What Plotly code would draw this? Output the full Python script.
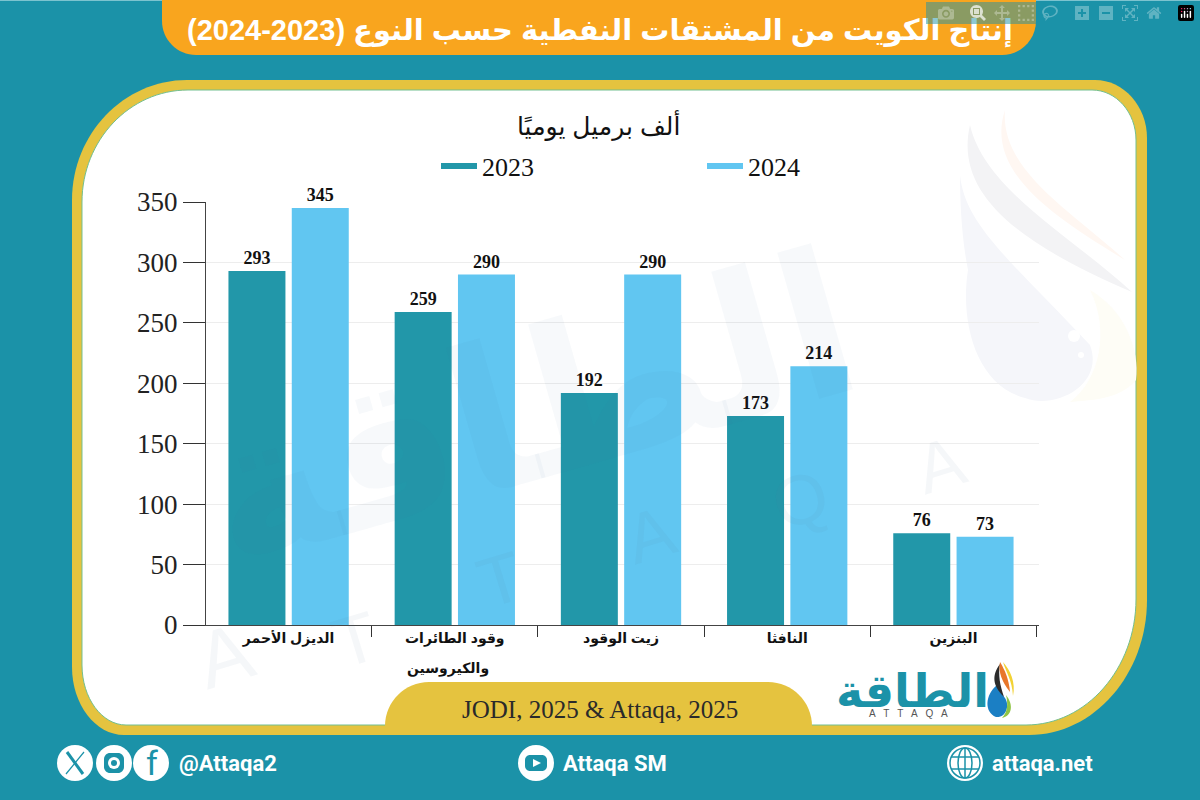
import plotly.graph_objects as go

# ---------- data ----------
categories = ["الديزل الأحمر", "وقود الطائرات والكيروسين", "زيت الوقود", "النافثا", "البنزين"]
tick_first_lines = ["الديزل الأحمر", "وقود الطائرات", "زيت الوقود", "النافثا", "البنزين"]
second_line_text = "والكيروسين"
values_2023 = [293, 259, 192, 173, 76]
values_2024 = [345, 290, 290, 214, 73]
series_names = ["2023", "2024"]
y_ticks = [0, 50, 100, 150, 200, 250, 300, 350]
title_text = "إنتاج الكويت من المشتقات النفطية حسب النوع (2023-2024)"
unit_text = "ألف برميل يوميًا"
source_text = "JODI, 2025 & Attaqa, 2025"

# ---------- style ----------
TEAL_BG = "#1B92A8"
TEAL_BAR = "#2297A9"
SKY_BAR = "#61C6F1"
GOLD = "#E5C33F"
ORANGE = "#F9A51E"
SERIF = "Liberation Serif, DejaVu Sans, serif"
ARABIC = "Liberation Sans, DejaVu Sans, sans-serif"
W, H = 1200, 800


def P(x, y):
    return f"{x / W:.5f},{1 - y / H:.5f}"


def rrect(x0, y0, x1, y1, tl, tr, br, bl):
    k = 0.45
    return (
        f"M{P(x0 + tl[0], y0)} L{P(x1 - tr[0], y0)} "
        f"C{P(x1 - tr[0] * k, y0)} {P(x1, y0 + tr[1] * k)} {P(x1, y0 + tr[1])} "
        f"L{P(x1, y1 - br[1])} "
        f"C{P(x1, y1 - br[1] * k)} {P(x1 - br[0] * k, y1)} {P(x1 - br[0], y1)} "
        f"L{P(x0 + bl[0], y1)} "
        f"C{P(x0 + bl[0] * k, y1)} {P(x0, y1 - bl[1] * k)} {P(x0, y1 - bl[1])} "
        f"L{P(x0, y0 + tl[1])} "
        f"C{P(x0, y0 + tl[1] * k)} {P(x0 + tl[0] * k, y0)} {P(x0 + tl[0], y0)} Z"
    )


def poly(points):
    return "M" + " L".join(P(*p) for p in points) + " Z"


def curve(start, *segs):
    s = f"M{P(*start)} "
    for c1, c2, e in segs:
        s += f"C{P(*c1)} {P(*c2)} {P(*e)} "
    return s + "Z"


def shape(path, fill, line=None, lw=0, layer="below"):
    d = dict(type="path", path=path, xref="paper", yref="paper", fillcolor=fill, layer=layer)
    d["line"] = dict(color=line or "rgba(0,0,0,0)", width=lw)
    return d


def circle(cx, cy, r, fill, line=None, lw=0, layer="below"):
    return dict(type="circle", xref="paper", yref="paper", layer=layer,
                x0=(cx - r) / W, x1=(cx + r) / W,
                y0=1 - (cy + r) / H, y1=1 - (cy - r) / H,
                fillcolor=fill, line=dict(color=line or "rgba(0,0,0,0)", width=lw))


def seg(x0, y0, x1, y1, color, lw, layer="above"):
    return dict(type="line", xref="paper", yref="paper", layer=layer,
                x0=x0 / W, x1=x1 / W, y0=1 - y0 / H, y1=1 - y1 / H,
                line=dict(color=color, width=lw))


def note(text, x, y, size, color, family=SERIF, bold=False, xanchor="center", angle=0):
    t = f"<b>{text}</b>" if bold else text
    return dict(text=t, x=x / W, y=1 - y / H, xref="paper", yref="paper", showarrow=False,
                xanchor=xanchor, yanchor="middle", textangle=angle,
                font=dict(family=family, size=size, color=color))


shapes = [
    seg(0, 0.5, 1200, 0.5, "#7CC3CF", 1, "below"),
    # title banner
    shape(rrect(162, -2, 1036, 55, (1, 1), (1, 1), (34, 34), (34, 34)), ORANGE),
    # panel
    shape(rrect(72, 80, 1147, 735, (115, 120), (52, 58), (118, 135), (52, 68)), GOLD),
    shape(rrect(82, 90, 1136, 725, (106, 112), (44, 50), (110, 126), (44, 60)), "#FFFFFF", "#72BF90", 1),
    # pale drop and swooshes behind the chart
    shape(curve((970, 125), ((955, 190), (1010, 240), (1132, 292)),
                ((1070, 235), (985, 190), (970, 125))), "#F3F3F5"),
    shape(curve((1005, 110), ((985, 170), (1050, 215), (1125, 260)),
                ((1070, 210), (1000, 170), (1005, 110))), "#FFF7F2"),
    shape(curve((960, 175), ((965, 225), (1010, 260), (1090, 345)),
                ((1105, 385), (1055, 410), (1025, 398)),
                ((975, 385), (960, 320), (968, 270)),
                ((962, 240), (960, 205), (960, 175))), "#F5F6FA"),
    shape(curve((1090, 290), ((1125, 310), (1140, 350), (1136, 380)),
                ((1120, 400), (1090, 400), (1070, 402)),
                ((1100, 380), (1110, 330), (1090, 290))), "#FEFDF6"),
    circle(1074, 336, 6, "#FFFFFF"),
    circle(1081, 355, 3, "#FFFFFF"),
    # source pill
    shape(rrect(385, 682, 812, 735, (44, 44), (44, 44), (1, 1), (1, 1)), GOLD),
    # logo flame
    shape(curve((997, 685), ((985, 695), (984, 712), (996, 717)),
                ((1006, 718), (1010, 706), (1005, 698)),
                ((1001, 693), (998, 690), (997, 685))), "#1B7FC4", layer="above"),
    shape(curve((1000, 664), ((992, 675), (992, 685), (1004, 697)),
                ((1000, 685), (998, 675), (1000, 664))), "#2B2B2B", layer="above"),
    shape(curve((1000, 662), ((998, 672), (1002, 682), (1010, 692)),
                ((1009, 680), (1005, 670), (1000, 662))), "#E8772A", layer="above"),
    shape(curve((1003, 662), ((1006, 672), (1012, 680), (1013, 696)),
                ((1016, 682), (1010, 670), (1003, 662))), "#F2D234", layer="above"),
    shape(curve((1006, 695), ((1014, 705), (1012, 716), (1002, 718)),
                ((1008, 712), (1008, 703), (1006, 695))), "#8FC444", layer="above"),
    # footer icons
    circle(75, 763, 18, "#FFFFFF"),
    circle(114, 763, 18, "#FFFFFF"),
    circle(151, 763, 18, "#FFFFFF"),
    circle(536, 763, 18, "#FFFFFF"),
    circle(965, 763, 18, "#FFFFFF"),
    seg(67, 752, 83, 774, TEAL_BG, 3),
    seg(84, 752, 66, 774, TEAL_BG, 1.2),
    shape(rrect(104, 753, 124, 773, (6, 6), (6, 6), (6, 6), (6, 6)), TEAL_BG, layer="above"),
    circle(114, 763, 6, "#FFFFFF", layer="above"),
    circle(114, 763, 3, TEAL_BG, layer="above"),
    shape(rrect(525, 755, 547, 771, (5, 5), (5, 5), (5, 5), (5, 5)), TEAL_BG, layer="above"),
    shape(poly([(533, 759), (541, 763), (533, 767)]), "#FFFFFF", layer="above"),
    circle(965, 763, 15, "#FFFFFF", TEAL_BG, 1.5, "above"),
    dict(type="circle", xref="paper", yref="paper", layer="above", x0=958 / W, x1=972 / W,
         y0=1 - 778 / H, y1=1 - 748 / H, line=dict(color=TEAL_BG, width=1.5)),
    seg(965, 748, 965, 778, TEAL_BG, 1.5),
    seg(951, 757, 979, 757, TEAL_BG, 1.5),
    seg(951, 769, 979, 769, TEAL_BG, 1.5),
]

WM = "rgba(60,120,170,0.045)"
annotations = [
    note(title_text, 600, 31, 29, "#FFFFFF", ARABIC, bold=True),
    note(unit_text, 598, 125, 25, "#111111", ARABIC),
    note(second_line_text, 448, 668, 14, "#111111", ARABIC, bold=True),
    note(source_text, 600, 709, 25, "#2A2A2A"),
    note("الطاقة", 912, 691, 46, "#1B92A8", ARABIC, bold=True),
    note("A   T   T   A   Q   A", 908, 713, 10, "#555555", "Liberation Sans"),
    note("f", 152, 763, 34, "#1B92A8", "Roboto"),
    note("@Attaqa2", 177, 763, 22, "#FFFFFF", "Roboto", bold=True, xanchor="left"),
    note("Attaqa SM", 561, 763, 22, "#FFFFFF", "Roboto", bold=True, xanchor="left"),
    note("attaqa.net", 990, 763, 22, "#FFFFFF", "Roboto", bold=True, xanchor="left"),
    # watermark
    note("الطاقة", 530, 410, 200, WM, ARABIC, bold=True, angle=-16),
    note("A", 225, 655, 80, "rgba(90,120,150,0.06)", "Liberation Sans", angle=-17),
    note("T", 355, 640, 70, "rgba(90,120,150,0.06)", "Liberation Sans", angle=-17),
    note("T", 500, 580, 70, "rgba(90,120,150,0.06)", "Liberation Sans", angle=-17),
    note("A", 650, 535, 70, "rgba(90,120,150,0.06)", "Liberation Sans", angle=-17),
    note("Q", 800, 500, 70, "rgba(90,120,150,0.06)", "Liberation Sans", angle=-17),
    note("A", 940, 465, 70, "rgba(90,120,150,0.06)", "Liberation Sans", angle=-17),
]

fig = go.Figure()
for name, vals, col in zip(series_names, (values_2023, values_2024), (TEAL_BAR, SKY_BAR)):
    fig.add_bar(
        x=categories, y=vals, name=name, marker=dict(color=col, line=dict(width=0)),
        text=vals, textposition="outside", cliponaxis=False, showlegend=False,
        textfont=dict(family=SERIF, size=18, color="#111111", weight="bold"),
        legendgroup=name,
    )
for name, col in zip(series_names, (TEAL_BAR, SKY_BAR)):
    fig.add_scatter(x=[None], y=[None], mode="lines", name=name, legendgroup=name,
                    line=dict(color=col, width=6))

fig.update_layout(
    width=W, height=H, margin=dict(l=0, r=0, t=0, b=0, autoexpand=False),
    paper_bgcolor=TEAL_BG, plot_bgcolor="rgba(0,0,0,0)",
    barmode="group", bargap=0.238, bargroupgap=0.1,
    shapes=shapes, annotations=annotations,
    legend=dict(orientation="h", xref="container", yref="container",
                x=436 / W, y=1 - 166 / H, xanchor="left", yanchor="middle",
                entrywidth=215, entrywidthmode="pixels", itemwidth=36,
                font=dict(family=SERIF, size=26, color="#111111"),
                bgcolor="rgba(0,0,0,0)", traceorder="normal"),
    xaxis=dict(domain=[206 / W, 1039 / W], type="category", range=[-0.497, 4.515],
               automargin=False,
               categoryorder="array", categoryarray=categories,
               tickmode="array", tickvals=categories, ticktext=tick_first_lines,
               tickson="boundaries", ticks="outside", ticklen=11, tickcolor="#333333",
               showline=True, linecolor="#444444", linewidth=1, showgrid=False,
               tickfont=dict(family=ARABIC, size=14, color="#111111", weight="bold")),
    yaxis=dict(domain=[1 - 625 / H, 1 - 202 / H], range=[0, 350], automargin=False,
               tickmode="array", tickvals=y_ticks, ticks="outside", ticklen=22,
               tickcolor="#333333", showline=True, linecolor="#444444", linewidth=1,
               showgrid=True, gridcolor="#EDEDED", gridwidth=1, zeroline=False,
               tickfont=dict(family=SERIF, size=27, color="#222222")),
)

fig.write_html("out.html", post_script="document.body.style.margin='0';")
